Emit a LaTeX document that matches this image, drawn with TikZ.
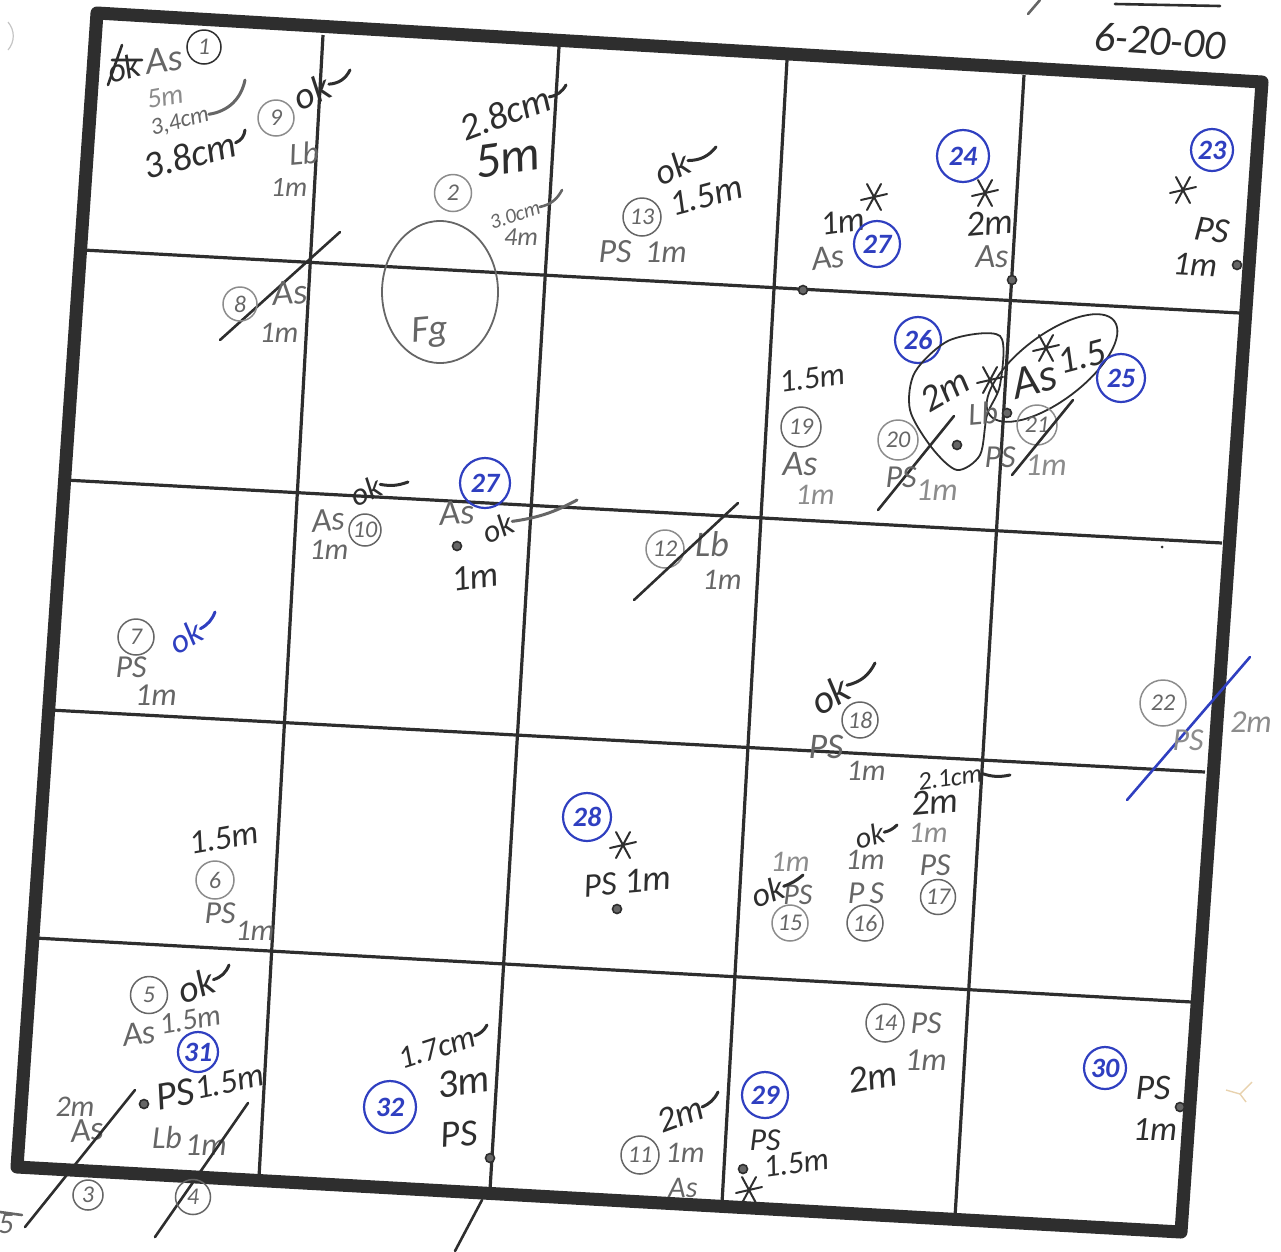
\documentclass[tikz,border=0pt]{standalone}
\usepackage{fontspec}
\setmainfont{Carlito}
\usetikzlibrary{calc}
\definecolor{inkdark}{HTML}{2E2E2E}
\definecolor{inkgray}{HTML}{666666}
\definecolor{inklight}{HTML}{8C8C8C}
\definecolor{inkblue}{HTML}{2F3FC0}
\definecolor{inktan}{HTML}{E8D2AE}
\tikzset{
  dk/.style={text=inkdark, inner sep=0pt, font=\fontsize{#1}{#1}\selectfont\itshape},
  dk/.default=34,
  gr/.style={text=inkgray, inner sep=0pt, font=\fontsize{#1}{#1}\selectfont\itshape},
  gr/.default=30,
  lg/.style={text=inklight, inner sep=0pt, font=\fontsize{#1}{#1}\selectfont\itshape},
  lg/.default=30,
  numc/.style={circle, draw=inkgray, line width=1.5pt, text=inkgray, inner sep=0pt,
               minimum size=#1, font=\fontsize{24}{24}\selectfont\itshape},
  numc/.default=36,
  bluec/.style={circle, draw=inkblue, line width=2.2pt, text=inkblue, inner sep=0pt,
                minimum size=#1, font=\fontsize{28}{28}\selectfont\bfseries\itshape},
  bluec/.default=46,
  dotm/.style={circle, draw=inkdark, fill=inkgray, line width=1.6pt, inner sep=0pt, minimum size=9pt},
  grid/.style={draw=inkdark, line width=3.2pt},
  frame/.style={draw=inkdark, line width=13pt, line join=round, line cap=round},
  stroke/.style={draw=inkdark, line width=2.6pt, line cap=round},
  tail/.style={draw=inkdark, line width=3pt, line cap=round},
  pencil/.style={draw=inkgray, line width=1.8pt},
  astk/.pic={
    \draw[draw=inkdark, line width=2pt, line cap=round]
      (-13,3) -- (13,-3) (-7,-13) -- (7,13) (7,-13) -- (-7,13);
  },
}
\begin{document}
\begin{tikzpicture}[x=1pt, y=-1pt]
  \useasboundingbox (0,0) rectangle (1281,1251);
  % outer square
  \coordinate (tl) at (97,13);
  \coordinate (tr) at (1262,82);
  \coordinate (br) at (1181,1232);
  \coordinate (bl) at (17,1167);
  \draw[frame] (tl) -- (tr) -- (br) -- (bl) -- cycle;
  % grid lines
  \foreach \xa/\ya/\xb/\yb in {323/35/259/1177, 559/47/490/1190, 787/60/722/1203, 1024/75/955/1217,
                               83/250/1240/313, 65/480/1222/543, 50/710/1205/772, 35/938/1192/1002}
    \draw[grid] (\xa,\ya) -- (\xb,\yb);
  % small dots
  \foreach \i/\x/\y in {a/803/290, b/1012/280, c/1237/265, d/957/445, e/1007/413, f/457/546, g/617/909,
                        h/144/1104, i/490/1158, j/743/1169, k/1180/1107}
    \node[dotm] (dot\i) at (\x,\y) {};
  % stars
  \foreach \x/\y in {874/197, 985/193, 1183/190, 990/380, 1046/348, 623/845, 749/1190}
    \pic at (\x,\y) {astk};
  % date and paper edge
  \node[dk=42, rotate=-4] (date) at (1160,41) {6-20-00};
  \draw[stroke] (1115,4) -- (1220,6);
  \draw[stroke, draw=inkgray] (1028,14) -- (1040,0);
  \draw[draw=inklight!50, line width=1.2pt] (8,22) to[bend left=40] (8,50);
  \draw[draw=inktan, line width=1.4pt] (1226,1090) -- (1240,1094) -- (1252,1082) (1240,1094) -- (1246,1102);
  \fill[inkdark] (1162,547) circle (1.5);
  % cell row 1
  \node[dk=34, rotate=15] (ok1) at (124,68) {ok};
  \draw[stroke] (108,85) -- (122,45) (112,60) -- (142,60);
  \node[gr=38, rotate=8] (as1) at (164,60) {As};
  \node[numc=34, draw=inkdark] (n1) at (204,47) {1};
  \node[lg=28, rotate=10] (d1) at (165,97) {5m};
  \node[gr=24, rotate=15] (d1b) at (180,122) {3,4cm};
  \draw[tail, draw=inkgray] (d1b.east) to[bend right=35] (245,80);
  \node[dk=38, rotate=15] (d1c) at (190,155) {3.8cm};
  \draw[tail] (d1c.east) to[bend right=30] (245,130);
  \node[numc=36, draw=inklight] (n9) at (276,118) {9};
  \node[dk=38, rotate=25] (ok9) at (312,92) {ok};
  \draw[tail] (ok9.east) to[bend right=30] (350,70);
  \node[gr=32, rotate=5] (lb9) at (304,153) {Lb};
  \node[gr=28] (m9) at (289,187) {1m};
  \node[dk=38, rotate=20] (d2) at (505,113) {2.8cm};
  \draw[tail] (d2.east) to[bend right=25] (566,85);
  \node[dk=50, rotate=8] (m2) at (507,158) {5m};
  \node[numc=37, draw=inklight] (n2) at (453,193) {2};
  \node[gr=21, rotate=18] (d2b) at (515,215) {3.0cm};
  \draw[stroke, draw=inkgray] (d2b.east) to[bend right=25] (562,190);
  \node[gr=26] (m2b) at (521,237) {4m};
  \draw[pencil] (440,292) ellipse [x radius=58, y radius=71];
  \node[gr=38, rotate=5] (fg) at (430,332) {Fg};
  \node[dk=36, rotate=25] (ok13) at (672,168) {ok};
  \draw[tail] (ok13.east) to[bend right=25] (716,147);
  \node[numc=38] (n13) at (642,217) {13};
  \node[dk=36, rotate=15] (d13) at (706,196) {1.5m};
  \node[gr=34] (ps13) at (615,252) {PS};
  \node[gr=32] (m13) at (666,252) {1m};
  \node[dk=34, rotate=8] (m27) at (843,222) {1m};
  \node[gr=34, rotate=8] (as27) at (828,258) {As};
  \node[bluec=46] (b27) at (877,244) {27};
  \node[bluec=52] (b24) at (963,156) {24};
  \node[dk=36, rotate=5] (m24) at (990,223) {2m};
  \node[gr=34] (as24) at (992,257) {As};
  \node[bluec=42] (b23) at (1212,150) {23};
  \node[dk=36, rotate=-8] (ps23) at (1212,230) {PS};
  \node[dk=34, rotate=-3] (m23) at (1195,265) {1m};
  % cell row 2
  \draw[stroke] (220,340) -- (340,232);
  \node[numc=34, draw=inklight] (n8) at (240,304) {8};
  \node[gr=36, rotate=5] (as8) at (290,293) {As};
  \node[gr=30] (m8) at (279,333) {1m};
  \node[dk=32, rotate=8] (d19) at (812,378) {1.5m};
  \node[numc=40] (n19) at (801,427) {19};
  \node[gr=36] (as19) at (800,464) {As};
  \node[lg=30] (m19) at (815,495) {1m};
  \node[bluec=46] (b26) at (918,340) {26};
  \draw[draw=inkdark, line width=1.8pt] plot[smooth cycle] coordinates
    {(1000,336) (950,340) (915,372) (910,410) (932,448) (957,470) (980,455) (987,415) (1000,385)};
  \draw[draw=inkdark, line width=1.8pt] (1052,368) ellipse [x radius=78, y radius=33, rotate=37];
  \node[dk=38, rotate=30] (m26) at (945,390) {2m};
  \node[gr=32, rotate=5] (lb26) at (983,413) {Lb};
  \draw[stroke] (878,510) -- (954,416);
  \node[numc=40, draw=inklight] (n20) at (898,440) {20};
  \node[gr=32] (ps20) at (901,477) {PS};
  \node[lg=32] (m20) at (937,490) {1m};
  \node[dk=46, rotate=15] (as25) at (1034,380) {As};
  \node[dk=38, rotate=15] (d25) at (1082,357) {1.5};
  \node[numc=40, draw=inklight] (n21) at (1037,425) {21};
  \draw[stroke] (1012,475) -- (1073,400);
  \node[gr=32] (ps21) at (1000,457) {PS};
  \node[lg=32] (m21) at (1046,465) {1m};
  \node[bluec=48] (b25) at (1121,378) {25};
  % cell row 3
  \node[gr=34, rotate=5] (as10) at (328,520) {As};
  \node[gr=30] (m10) at (329,550) {1m};
  \node[numc=32] (n10) at (365,530) {10};
  \node[dk=32, rotate=25] (ok10) at (366,491) {ok};
  \draw[tail] (ok10.east) to[bend right=15] (408,482);
  \node[bluec=50] (b37) at (485,483) {27};
  \node[gr=36, rotate=5] (as37) at (457,513) {As};
  \node[dk=32, rotate=25] (ok37) at (498,528) {ok};
  \draw[tail, draw=inkgray] (ok37.east) to[bend right=10] (577,500);
  \node[dk=36, rotate=8] (m37) at (475,577) {1m};
  \node[numc=38, draw=inklight] (n12) at (665,549) {12};
  \node[gr=36] (lb12) at (712,544) {Lb};
  \node[gr=30] (m12) at (722,580) {1m};
  \draw[stroke] (634,600) -- (738,503);
  \node[numc=36] (n7) at (136,637) {7};
  \node[dk=34, text=inkblue, rotate=30] (ok7) at (186,637) {ok};
  \draw[tail, draw=inkblue] (ok7.east) to[bend right=20] (215,612);
  \node[gr=32] (ps7) at (131,667) {PS};
  \node[gr=32] (m7) at (156,695) {1m};
  % cell row 3 and 4, right side
  \node[numc=46, draw=inklight] (n22) at (1163,703) {22};
  \draw[stroke, draw=inkblue] (1127,800) -- (1250,657);
  \node[lg=32] (ps22) at (1188,740) {PS};
  \node[lg=32] (m22) at (1251,722) {2m};
  \node[dk=40, rotate=30] (ok18) at (830,695) {ok};
  \draw[tail] (ok18.east) to[bend right=25] (875,663);
  \node[numc=36] (n18) at (860,720) {18};
  \node[gr=36] (ps18) at (826,747) {PS};
  \node[gr=30] (m18) at (866,771) {1m};
  \node[dk=26, rotate=8] (d17) at (950,778) {2.1cm};
  \draw[tail] (d17.east) to[bend right=15] (1010,775);
  \node[dk=36, rotate=5] (m17) at (935,802) {2m};
  \node[dk=30, rotate=15] (ok16) at (870,836) {ok};
  \draw[tail] (ok16.east) to[bend right=15] (897,825);
  \node[lg=30] (m17b) at (928,833) {1m};
  \node[gr=30] (m16) at (865,860) {1m};
  \node[gr=32] (ps17) at (935,865) {PS};
  \node[gr=32] (ps16) at (866,893) {P\,S};
  \node[numc=35] (n17) at (938,897) {17};
  \node[numc=36] (n16) at (865,923) {16};
  \node[numc=36, draw=inklight] (n15) at (790,923) {15};
  \node[gr=30] (ps15) at (798,895) {PS};
  \node[lg=30] (m15) at (790,862) {1m};
  \node[dk=34, rotate=20] (ok15) at (768,892) {ok};
  \draw[tail] (ok15.east) to[bend right=10] (803,875);
  \node[bluec=48] (b28) at (587,817) {28};
  \node[dk=34, rotate=5] (ps28) at (600,885) {PS};
  \node[dk=36, rotate=5] (m28) at (648,880) {1m};
  \node[dk=34, rotate=10] (d6) at (224,838) {1.5m};
  \node[numc=38, draw=inklight] (n6) at (215,880) {6};
  \node[gr=32] (ps6) at (220,913) {PS};
  \node[gr=30] (m6) at (255,931) {1m};
  % cell row 5
  \node[numc=37] (n5) at (149,995) {5};
  \node[dk=38, rotate=20] (ok5) at (196,986) {ok};
  \draw[tail] (ok5.east) to[bend right=25] (229,965);
  \node[gr=34, rotate=8] (as5) at (139,1034) {As};
  \node[gr=30, rotate=10] (d5) at (190,1020) {1.5m};
  \node[bluec=40] (b31) at (198,1052) {31};
  \node[dk=40, rotate=10] (ps31) at (175,1094) {PS};
  \node[dk=34, rotate=12] (d31) at (229,1082) {1.5m};
  \node[gr=30] (m3) at (75,1107) {2m};
  \node[gr=34, rotate=5] (as3) at (87,1130) {As};
  \draw[stroke] (135,1090) -- (25,1227);
  \node[gr=32] (lb4) at (167,1137) {Lb};
  \node[gr=32] (m4) at (206,1145) {1m};
  \draw[stroke] (248,1103) -- (155,1237);
  \node[numc=30] (n3) at (88,1195) {3};
  \node[numc=35] (n4) at (193,1197) {4};
  \node[gr=30] (n5b) at (6,1224) {5};
  \draw[stroke, draw=inkgray] (0,1212) -- (22,1215);
  \node[dk=32, rotate=18] (d32) at (437,1048) {1.7cm};
  \draw[tail] (d32.east) to[bend right=20] (487,1025);
  \node[dk=40, rotate=8] (m32) at (463,1082) {3m};
  \node[dk=38, rotate=5] (ps32) at (459,1134) {PS};
  \node[bluec=52] (b32) at (390,1107) {32};
  \draw[stroke] (482,1200) -- (455,1251);
  \node[dk=36, rotate=20] (m11) at (680,1115) {2m};
  \draw[tail] (m11.east) to[bend right=20] (718,1092);
  \node[numc=38] (n11) at (640,1155) {11};
  \node[gr=30] (m11b) at (685,1153) {1m};
  \node[gr=30] (as11) at (683,1188) {As};
  \node[bluec=46] (b29) at (765,1095) {29};
  \node[dk=32] (ps29) at (765,1140) {PS};
  \node[dk=32, rotate=8] (d29) at (796,1163) {1.5m};
  \node[numc=38] (n14) at (885,1023) {14};
  \node[gr=32] (ps14) at (926,1023) {PS};
  \node[dk=38, rotate=10] (m14) at (873,1077) {2m};
  \node[gr=32] (m14b) at (926,1060) {1m};
  \node[bluec=42] (b30) at (1105,1068) {30};
  \node[dk=36] (ps30) at (1153,1088) {PS};
  \node[dk=34] (m30) at (1155,1130) {1m};
\end{tikzpicture}
\end{document}
